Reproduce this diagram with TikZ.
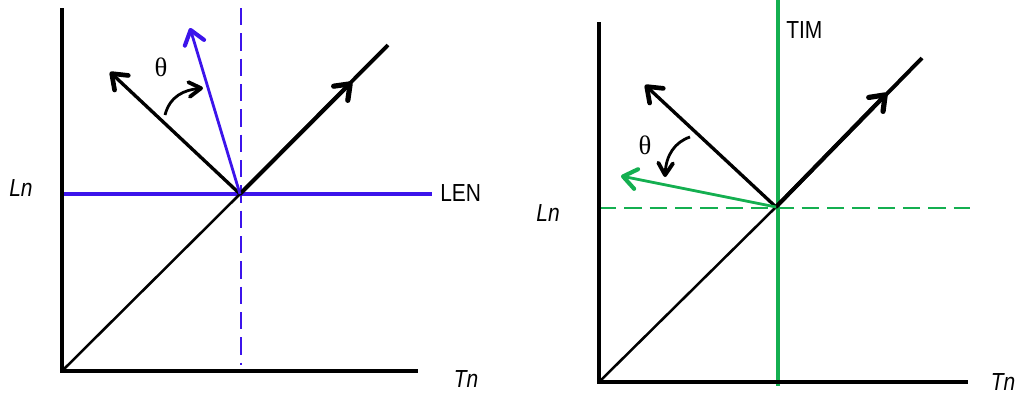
\documentclass[tikz,border=0pt]{standalone}
\usepackage{fontspec}
\setmainfont[FakeStretch=0.85]{Liberation Sans}
\newfontfamily\thetafont{Liberation Serif}
\usetikzlibrary{arrows.meta}
\definecolor{myblue}{RGB}{60,20,235}
\definecolor{mygreen}{RGB}{20,175,80}
\begin{document}
\begin{tikzpicture}[x=0.75pt,y=-0.75pt,
  axis/.style={line width=3.6pt, line join=miter},
  diag/.style={line width=1.9pt},
  diagthick/.style={line width=2.9pt},
  barb/.style={-{Straight Barb[length=10pt,width=15pt,line width=1pt 1,line cap=round,line join=round]}},
  smallbarb/.style={-{Straight Barb[length=9pt,width=11pt,line width=0.8pt 1,line cap=round,line join=round]}},
  vec/.style={line width=2.5pt, barb},
  lbl/.style={font=\fontsize{18.5}{20}\selectfont, inner sep=0pt},
  thlbl/.style={font=\thetafont\fontsize{20}{22}\selectfont, inner sep=0pt}]
\useasboundingbox (0,0) rectangle (1018,394);

% ---------- left panel ----------
\coordinate (Y1) at (62,8);
\coordinate (O1) at (62,371);
\coordinate (X1) at (418,371);
\coordinate (C1) at (240,194);
\coordinate (E1) at (388,45);
\coordinate (M1) at (352,82);
\coordinate (H1a) at (62,194);
\coordinate (H1b) at (432,194);
\coordinate (V1a) at (241,8);
\coordinate (V1b) at (241,365);
\coordinate (B1) at (110,72);
\coordinate (U1) at (190,28);
\coordinate (K1a) at (165,115);
\coordinate (K1b) at (203,88);

\draw[myblue, line width=2.5pt] (H1a) -- (H1b);
\draw[myblue, line width=1.6pt, dash pattern=on 13pt off 6pt] (V1a) -- (V1b);
\draw[axis] (Y1) -- (O1) -- (X1);
\draw[diag] (O1) -- (C1);
\draw[diagthick] (C1) -- (E1);
\draw[diagthick, barb] (C1) -- (M1);
\draw[vec] (C1) -- (B1);
\draw[vec, myblue, line width=2.1pt] (C1) -- (U1);
\draw[line width=2.1pt, smallbarb] (K1a) .. controls (170,96) and (184,90) .. (K1b);

\node[thlbl] (th1) at (161,67) {θ};
\node[lbl, anchor=west] (len) at (440,193) {LEN};
\node[lbl, font=\fontsize{18.5}{20}\selectfont\itshape] (ln1) at (21,188) {Ln};
\node[lbl, font=\fontsize{18.5}{20}\selectfont\itshape] (tn1) at (466,379) {Tn};

% ---------- right panel ----------
\coordinate (Y2) at (599,22);
\coordinate (O2) at (599,382);
\coordinate (X2) at (968,382);
\coordinate (C2) at (776,207);
\coordinate (E2) at (922,58);
\coordinate (M2) at (887,93);
\coordinate (G2a) at (778,0);
\coordinate (G2b) at (778,386);
\coordinate (D2a) at (599,208);
\coordinate (D2b) at (970,208);
\coordinate (B2) at (645,85);
\coordinate (U2) at (621,176);
\coordinate (K2a) at (690,137);
\coordinate (K2b) at (665,177);

\draw[mygreen, line width=1.6pt, dash pattern=on 13pt off 6pt] (D2a) -- (D2b);
\draw[mygreen, line width=2.5pt] (G2a) -- (G2b);
\draw[axis] (Y2) -- (O2) -- (X2);
\draw[diag] (O2) -- (C2);
\draw[diagthick] (C2) -- (E2);
\draw[diagthick, barb] (C2) -- (M2);
\draw[vec] (C2) -- (B2);
\draw[vec, mygreen, line width=2.1pt] (C2) -- (U2);
\draw[line width=2.1pt, smallbarb] (K2a) .. controls (675,142) and (666,155) .. (K2b);

\node[thlbl] (th2) at (645,145) {θ};
\node[lbl, anchor=west] (tim) at (786,30) {TIM};
\node[lbl, font=\fontsize{18.5}{20}\selectfont\itshape] (ln2) at (548,213) {Ln};
\node[lbl, font=\fontsize{18.5}{20}\selectfont\itshape] (tn2) at (1003,382) {Tn};
\end{tikzpicture}
\end{document}
